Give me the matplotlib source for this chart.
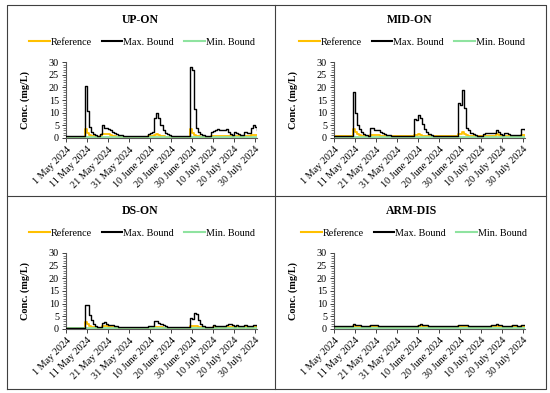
import matplotlib
matplotlib.use("Agg")
import matplotlib.pyplot as plt
from matplotlib.lines import Line2D
from matplotlib.ticker import MultipleLocator
import pandas as pd

# daily values, 1 May 2024 .. 31 July 2024 (92 days)
dates = pd.date_range("2024-05-01", "2024-07-31", freq="D")

up_max = [0.7, 0.7, 0.7, 0.7, 0.7, 0.7, 0.7, 0.7, 0.7, 20.5,
          10.5, 4.5, 2.5, 1.5, 1.0, 0.8, 1.5, 5.0, 4.0, 3.8,
          3.5, 3.0, 2.5, 2.0, 1.5, 1.2, 1.0, 0.8, 0.8, 0.8,
          0.8, 0.8, 0.9, 0.8, 0.8, 0.8, 0.8, 0.8, 0.8, 1.5,
          2.0, 2.5, 8.0, 10.0, 8.0, 5.0, 3.0, 2.0, 1.5, 1.0,
          0.8, 0.8, 0.8, 0.8, 0.9, 0.8, 0.8, 0.8, 0.8, 28.0,
          27.0, 11.5, 4.0, 2.5, 1.5, 1.0, 0.8, 0.7, 0.7, 2.5,
          2.8, 3.0, 3.5, 3.0, 3.2, 3.0, 3.5, 2.5, 1.5, 1.0,
          2.5, 2.0, 1.5, 1.0, 1.0, 2.5, 2.0, 2.0, 4.0, 5.0,
          4.5, 3.0]
up_ref = [0.5, 0.5, 0.5, 0.5, 0.5, 0.5, 0.5, 0.5, 0.5, 3.5,
          2.0, 1.0, 0.7, 0.6, 0.5, 0.5, 0.8, 1.5, 1.5, 1.5,
          1.4, 1.0, 0.8, 0.6, 0.5, 0.5, 0.5, 0.5, 0.5, 0.5,
          0.5, 0.5, 0.5, 0.5, 0.5, 0.5, 0.5, 0.5, 0.5, 0.6,
          0.7, 0.8, 1.2, 1.5, 1.0, 0.7, 0.6, 0.5, 0.5, 0.5,
          0.5, 0.5, 0.5, 0.5, 0.5, 0.5, 0.5, 0.5, 0.5, 3.5,
          2.0, 1.2, 0.8, 0.6, 0.5, 0.5, 0.5, 0.5, 0.5, 0.8,
          0.8, 0.8, 0.9, 0.8, 0.8, 0.8, 0.9, 0.8, 0.6, 0.5,
          0.8, 0.7, 0.6, 0.5, 0.5, 0.8, 0.7, 0.7, 1.0, 1.2,
          1.2, 1.0]
up_min = [0.3, 0.3, 0.3, 0.3, 0.3, 0.3, 0.3, 0.3, 0.3, 0.4,
          0.4, 0.3, 0.3, 0.3, 0.3, 0.3, 0.3, 0.3, 0.3, 0.3,
          0.3, 0.3, 0.3, 0.3, 0.3, 0.3, 0.3, 0.3, 0.3, 0.3,
          0.3, 0.3, 0.3, 0.3, 0.3, 0.3, 0.3, 0.3, 0.3, 0.3,
          0.3, 0.3, 0.3, 0.3, 0.3, 0.3, 0.3, 0.3, 0.3, 0.3,
          0.3, 0.3, 0.3, 0.3, 0.3, 0.3, 0.3, 0.3, 0.3, 0.4,
          0.4, 0.3, 0.3, 0.3, 0.3, 0.3, 0.3, 0.3, 0.3, 0.3,
          0.3, 0.3, 0.3, 0.3, 0.3, 0.3, 0.3, 0.3, 0.3, 0.3,
          0.3, 0.3, 0.3, 0.3, 0.3, 0.3, 0.3, 0.3, 0.3, 0.3,
          0.3, 0.3]

mid_max = [0.8, 0.8, 0.8, 0.8, 0.8, 0.8, 0.8, 0.8, 0.8, 18.0,
           10.0, 5.0, 3.5, 2.5, 1.5, 1.0, 0.8, 3.8, 3.8, 3.3,
           3.3, 3.3, 2.5, 2.0, 1.5, 1.2, 1.0, 0.8, 0.8, 0.8,
           0.8, 0.8, 0.8, 0.8, 0.8, 0.8, 0.8, 0.8, 7.5, 7.0,
           9.0, 8.0, 5.5, 3.5, 2.5, 1.5, 1.0, 0.8, 0.8, 0.8,
           0.8, 0.8, 0.9, 0.8, 0.8, 0.8, 0.8, 0.8, 0.8, 14.0,
           13.0, 19.0, 12.0, 4.0, 3.0, 2.0, 1.5, 1.0, 0.8, 0.8,
           0.8, 1.5, 2.0, 2.0, 2.0, 2.0, 2.0, 3.3, 2.5, 1.5,
           1.0, 2.0, 2.0, 1.5, 1.0, 1.0, 1.0, 1.2, 1.2, 3.5,
           3.5, 3.0]
mid_ref = [0.6, 0.6, 0.6, 0.6, 0.6, 0.6, 0.6, 0.6, 0.6, 3.5,
           2.5, 1.5, 1.0, 0.7, 0.6, 0.6, 0.6, 1.2, 1.3, 1.3,
           1.3, 1.2, 0.9, 0.7, 0.6, 0.6, 0.6, 0.6, 0.6, 0.6,
           0.6, 0.6, 0.6, 0.6, 0.6, 0.6, 0.6, 0.6, 1.0, 1.2,
           1.5, 1.2, 0.9, 0.7, 0.6, 0.6, 0.6, 0.6, 0.6, 0.6,
           0.6, 0.6, 0.6, 0.6, 0.6, 0.6, 0.6, 0.6, 0.6, 1.5,
           1.5, 2.5, 1.5, 1.0, 0.7, 0.6, 0.6, 0.6, 0.6, 0.6,
           0.6, 0.7, 0.8, 0.8, 0.8, 0.8, 0.8, 1.5, 1.0, 0.7,
           0.6, 0.8, 0.8, 0.7, 0.6, 0.6, 0.6, 0.6, 0.6, 1.0,
           1.0, 0.9]
mid_min = [0.3, 0.3, 0.3, 0.3, 0.3, 0.3, 0.3, 0.3, 0.3, 0.4,
           0.4, 0.3, 0.3, 0.3, 0.3, 0.3, 0.3, 0.3, 0.3, 0.3,
           0.3, 0.3, 0.3, 0.3, 0.3, 0.3, 0.3, 0.3, 0.3, 0.3,
           0.3, 0.3, 0.3, 0.3, 0.3, 0.3, 0.3, 0.3, 0.3, 0.3,
           0.3, 0.3, 0.3, 0.3, 0.3, 0.3, 0.3, 0.3, 0.3, 0.3,
           0.3, 0.3, 0.3, 0.3, 0.3, 0.3, 0.3, 0.3, 0.3, 0.3,
           0.4, 0.4, 0.3, 0.3, 0.3, 0.3, 0.3, 0.3, 0.3, 0.3,
           0.3, 0.3, 0.3, 0.3, 0.3, 0.3, 0.3, 0.3, 0.3, 0.3,
           0.3, 0.3, 0.3, 0.3, 0.3, 0.3, 0.3, 0.3, 0.3, 0.3,
           0.3, 0.3]

ds_max = [0.5, 0.5, 0.5, 0.5, 0.5, 0.5, 0.5, 0.5, 0.5, 9.5,
          9.3, 5.5, 3.5, 2.0, 1.2, 0.8, 0.6, 2.5, 2.8, 2.0,
          1.7, 1.7, 1.5, 1.2, 1.0, 0.8, 0.6, 0.6, 0.6, 0.6,
          0.6, 0.6, 0.7, 0.6, 0.6, 0.6, 0.6, 0.6, 0.6, 1.2,
          1.0, 1.2, 3.0, 3.0, 2.5, 2.0, 1.5, 1.0, 0.8, 0.6,
          0.6, 0.6, 0.6, 0.6, 0.6, 0.6, 0.6, 0.6, 0.6, 4.2,
          4.0, 6.2, 5.8, 3.5, 2.0, 1.0, 0.8, 0.6, 0.6, 0.6,
          1.5, 1.2, 1.3, 1.3, 1.0, 1.0, 1.5, 2.0, 2.0, 1.5,
          1.2, 1.5, 1.3, 1.0, 1.0, 1.5, 1.0, 1.0, 1.0, 1.7,
          1.5, 1.2]
ds_ref = [0.4, 0.4, 0.4, 0.4, 0.4, 0.4, 0.4, 0.4, 0.4, 2.8,
          2.0, 1.2, 0.8, 0.6, 0.5, 0.4, 0.4, 1.0, 1.2, 1.0,
          0.8, 0.8, 0.7, 0.6, 0.5, 0.4, 0.4, 0.4, 0.4, 0.4,
          0.4, 0.4, 0.4, 0.4, 0.4, 0.4, 0.4, 0.4, 0.4, 0.5,
          0.5, 0.5, 0.8, 0.8, 0.7, 0.6, 0.5, 0.4, 0.4, 0.4,
          0.4, 0.4, 0.4, 0.4, 0.4, 0.4, 0.4, 0.4, 0.4, 1.0,
          1.0, 1.2, 1.2, 0.8, 0.6, 0.5, 0.4, 0.4, 0.4, 0.4,
          0.6, 0.5, 0.6, 0.6, 0.5, 0.5, 0.6, 0.8, 0.8, 0.6,
          0.5, 0.6, 0.6, 0.5, 0.5, 0.6, 0.5, 0.5, 0.5, 0.7,
          0.6, 0.5]
ds_min = [0.3, 0.3, 0.3, 0.3, 0.3, 0.3, 0.3, 0.3, 0.3, 0.3,
          0.3, 0.3, 0.3, 0.3, 0.3, 0.3, 0.3, 0.3, 0.3, 0.3,
          0.3, 0.3, 0.3, 0.3, 0.3, 0.3, 0.3, 0.3, 0.3, 0.3,
          0.3, 0.3, 0.3, 0.3, 0.3, 0.3, 0.3, 0.3, 0.3, 0.3,
          0.3, 0.3, 0.3, 0.3, 0.3, 0.3, 0.3, 0.3, 0.3, 0.3,
          0.3, 0.3, 0.3, 0.3, 0.3, 0.3, 0.3, 0.3, 0.3, 0.3,
          0.3, 0.3, 0.3, 0.3, 0.3, 0.3, 0.3, 0.3, 0.3, 0.3,
          0.3, 0.3, 0.3, 0.3, 0.3, 0.3, 0.3, 0.3, 0.3, 0.3,
          0.3, 0.3, 0.3, 0.3, 0.3, 0.3, 0.3, 0.3, 0.3, 0.3,
          0.3, 0.3]

arm_max = [1.2, 1.2, 1.2, 1.2, 1.2, 1.2, 1.2, 1.2, 1.2, 1.8,
           1.7, 1.5, 1.4, 1.3, 1.2, 1.2, 1.3, 1.6, 1.6, 1.5,
           1.4, 1.3, 1.2, 1.2, 1.2, 1.2, 1.2, 1.2, 1.2, 1.2,
           1.2, 1.2, 1.2, 1.2, 1.2, 1.2, 1.2, 1.2, 1.2, 1.3,
           1.5, 1.8, 1.7, 1.5, 1.4, 1.3, 1.2, 1.2, 1.2, 1.2,
           1.2, 1.2, 1.2, 1.2, 1.2, 1.2, 1.2, 1.2, 1.2, 1.4,
           1.6, 1.7, 1.6, 1.4, 1.3, 1.2, 1.2, 1.2, 1.2, 1.2,
           1.3, 1.3, 1.3, 1.3, 1.3, 1.4, 1.5, 1.8, 1.6, 1.4,
           1.3, 1.3, 1.3, 1.2, 1.2, 1.4, 1.5, 1.3, 1.2, 1.4,
           1.4, 1.4]
arm_ref = [0.9, 0.9, 0.9, 0.9, 0.9, 0.9, 0.9, 0.9, 0.9, 1.2,
           1.1, 1.0, 1.0, 0.9, 0.9, 0.9, 0.9, 1.1, 1.1, 1.0,
           1.0, 0.9, 0.9, 0.9, 0.9, 0.9, 0.9, 0.9, 0.9, 0.9,
           0.9, 0.9, 0.9, 0.9, 0.9, 0.9, 0.9, 0.9, 0.9, 0.9,
           1.0, 1.2, 1.1, 1.0, 1.0, 0.9, 0.9, 0.9, 0.9, 0.9,
           0.9, 0.9, 0.9, 0.9, 0.9, 0.9, 0.9, 0.9, 0.9, 1.0,
           1.1, 1.2, 1.1, 1.0, 0.9, 0.9, 0.9, 0.9, 0.9, 0.9,
           0.9, 0.9, 0.9, 0.9, 0.9, 1.0, 1.0, 1.2, 1.1, 1.0,
           0.9, 0.9, 0.9, 0.9, 0.9, 1.0, 1.0, 0.9, 0.9, 1.0,
           1.0, 1.0]
arm_min = [0.3, 0.3, 0.3, 0.3, 0.3, 0.3, 0.3, 0.3, 0.3, 0.3,
           0.3, 0.3, 0.3, 0.3, 0.3, 0.3, 0.3, 0.3, 0.3, 0.3,
           0.3, 0.3, 0.3, 0.3, 0.3, 0.3, 0.3, 0.3, 0.3, 0.3,
           0.3, 0.3, 0.3, 0.3, 0.3, 0.3, 0.3, 0.3, 0.3, 0.3,
           0.3, 0.3, 0.3, 0.3, 0.3, 0.3, 0.3, 0.3, 0.3, 0.3,
           0.3, 0.3, 0.3, 0.3, 0.3, 0.3, 0.3, 0.3, 0.3, 0.3,
           0.3, 0.3, 0.3, 0.3, 0.3, 0.3, 0.3, 0.3, 0.3, 0.3,
           0.3, 0.3, 0.3, 0.3, 0.3, 0.3, 0.3, 0.3, 0.3, 0.3,
           0.3, 0.3, 0.3, 0.3, 0.3, 0.3, 0.3, 0.3, 0.3, 0.3,
           0.3, 0.3]

titles = ["UP-ON", "MID-ON", "DS-ON", "ARM-DIS"]
series = [(up_ref, up_max, up_min), (mid_ref, mid_max, mid_min),
          (ds_ref, ds_max, ds_min), (arm_ref, arm_max, arm_min)]
tick_dates = pd.date_range("2024-05-01", periods=10, freq="10D")
tick_labels = ["1 May 2024", "11 May 2024", "21 May 2024", "31 May 2024",
               "10 June 2024", "20 June 2024", "30 June 2024",
               "10 July 2024", "20 July 2024", "30 July 2024"]

plt.rcParams['font.family'] = ['Liberation Serif', 'DejaVu Serif']

W, H = 550, 393
fig = plt.figure(figsize=(5.5, 3.93), dpi=100)

# panel layout in pixels: axes left, axes top, panel center x, title y, legend y
panels = [(66, 62, 140, 20, 42), (334, 62, 410, 20, 42),
          (66, 253, 140, 211, 233), (334, 253, 412, 211, 233)]

for (left, top, cx, ty, ly), title, (ref, mx, mn) in zip(panels, titles, series):
    ax = fig.add_axes([left / W, 1 - (top + 76) / H, 191 / W, 76 / H])
    ax.plot(dates, ref, color='#FFC000', lw=1.3, drawstyle='steps-post', zorder=2)
    ax.plot(dates, mx, color='black', lw=1.0, drawstyle='steps-post', zorder=3)
    ax.plot(dates, mn, color='#8FE3A0', lw=1.3, drawstyle='steps-post', zorder=2)
    ax.set_xlim(dates[0], dates[-1])
    ax.set_ylim(0, 30)
    ax.yaxis.set_major_locator(MultipleLocator(5))
    ax.yaxis.set_minor_locator(MultipleLocator(1))
    ax.set_xticks(tick_dates)
    ax.set_xticklabels(tick_labels, rotation=45, ha='right', rotation_mode='anchor')
    ax.tick_params(axis='both', labelsize=7.3, colors='#404040', labelcolor='black',
                   length=3, width=0.7, pad=2)
    ax.tick_params(axis='y', which='minor', length=2, width=0.5, colors='#404040')
    for s in ['top', 'right']:
        ax.spines[s].set_visible(False)
    for s in ['left', 'bottom']:
        ax.spines[s].set_color('#595959')
        ax.spines[s].set_linewidth(0.8)
    ax.set_ylabel("Conc. (mg/L)", fontsize=7.3, fontweight='bold')
    ax.yaxis.set_label_coords(-0.19, 0.5)
    fig.text(cx / W, 1 - ty / H, title, ha='center', va='center',
             fontsize=8.5, fontweight='bold')
    handles = [Line2D([], [], color='#FFC000', lw=1.5),
               Line2D([], [], color='black', lw=1.5),
               Line2D([], [], color='#8FE3A0', lw=1.5)]
    fig.legend(handles, ["Reference", "Max. Bound", "Min. Bound"],
               loc='center', bbox_to_anchor=((cx + 2) / W, 1 - ly / H), ncol=3,
               frameon=False, fontsize=7.3, handlelength=2.0, handletextpad=0.1,
               columnspacing=1.0, borderpad=0)

# panel frames
border = dict(color='#404040', lw=0.8, transform=fig.transFigure)
x0, x1, y0, y1 = 7 / W, 546 / W, 1 - 389 / H, 1 - 5 / H
fig.add_artist(Line2D([x0, x1, x1, x0, x0], [y0, y0, y1, y1, y0], **border))
fig.add_artist(Line2D([0.5, 0.5], [y0, y1], **border))
fig.add_artist(Line2D([x0, x1], [1 - 196 / H, 1 - 196 / H], **border))

fig.savefig("out.png", dpi=100)
